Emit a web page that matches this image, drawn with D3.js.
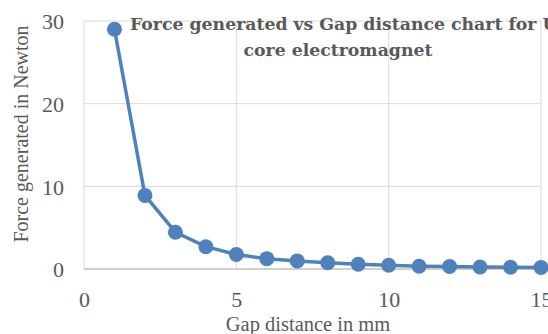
<!DOCTYPE html>
<html>
<head>
<meta charset="utf-8">
<script src="https://cdn.jsdelivr.net/npm/d3@7"></script>
<style>
  body { margin: 0; background: #fff; overflow: hidden; }
  text { font-family: "Liberation Serif", "DejaVu Serif", serif; fill: #595959; }
</style>
</head>
<body>
<div id="chart"></div>
<script>
var svgWidth = 548;
var svgHeight = 334;

// chart data
var gapMm = [1, 2, 3, 4, 5, 6, 7, 8, 9, 10, 11, 12, 13, 14, 15];
var forceN = [29, 8.9, 4.45, 2.7, 1.75, 1.25, 0.98, 0.75, 0.58, 0.45, 0.34, 0.3, 0.25, 0.21, 0.18];
var xTicks = [0, 5, 10, 15];
var yTicks = [0, 10, 20, 30];
var titleLines = ["Force generated vs Gap distance chart for U-", "core electromagnet"];

var margin = { top: 21, right: 7, bottom: 65, left: 84 };
var width = svgWidth - margin.left - margin.right;
var height = svgHeight - margin.top - margin.bottom;

var svg = d3.select("#chart")
            .append("svg")
            .attr("width", svgWidth)
            .attr("height", svgHeight);

var g = svg.append("g")
           .attr("transform", `translate(${margin.left}, ${margin.top})`);

var xScale = d3.scaleLinear().domain([0, 15]).range([0, width]);
var yScale = d3.scaleLinear().domain([0, 30]).range([height, 0]);

// gridlines
g.append("g")
  .selectAll("line")
  .data(yTicks.filter(d => d > 0))
  .enter().append("line")
  .attr("x1", 0).attr("x2", width)
  .attr("y1", d => yScale(d)).attr("y2", d => yScale(d))
  .attr("stroke", "#d9d9d9").attr("stroke-width", 1);

g.append("g")
  .selectAll("line")
  .data(xTicks)
  .enter().append("line")
  .attr("x1", d => xScale(d)).attr("x2", d => xScale(d))
  .attr("y1", 0).attr("y2", height)
  .attr("stroke", "#d9d9d9").attr("stroke-width", 1);

// x axis line at zero
g.append("line")
  .attr("x1", 0).attr("x2", width)
  .attr("y1", yScale(0)).attr("y2", yScale(0))
  .attr("stroke", "#bfbfbf").attr("stroke-width", 1.3);

// axes (labels only)
var xAxis = d3.axisBottom(xScale).tickValues(xTicks).tickSize(0).tickPadding(22);
var yAxis = d3.axisLeft(yScale).tickValues(yTicks).tickSize(0).tickPadding(20);

var xAxisGroup = g.append("g")
  .attr("transform", `translate(0, ${height})`)
  .call(xAxis);
var yAxisGroup = g.append("g").call(yAxis);

[xAxisGroup, yAxisGroup].forEach(function(ax) {
  ax.select(".domain").remove();
  ax.selectAll("text")
    .style("font-family", "Liberation Serif, serif")
    .style("font-size", "22px")
    .attr("fill", "#595959");
});
yAxisGroup.selectAll("text").attr("dy", "0.35em");

// line + markers
var line = d3.line()
  .x((d, i) => xScale(gapMm[i]))
  .y(d => yScale(d));

g.append("path")
  .datum(forceN)
  .attr("d", line)
  .attr("fill", "none")
  .attr("stroke", "#4f81bd")
  .attr("stroke-width", 3.5)
  .attr("stroke-linejoin", "round");

g.selectAll("circle")
  .data(forceN)
  .enter().append("circle")
  .attr("cx", (d, i) => xScale(gapMm[i]))
  .attr("cy", d => yScale(d))
  .attr("r", 7.5)
  .attr("fill", "#4f81bd");

// title
var title = svg.append("text")
  .style("font-family", "DejaVu Serif, serif")
  .style("font-weight", "bold")
  .style("font-size", "17.3px");
title.append("tspan")
  .attr("x", 130).attr("y", 30)
  .text(titleLines[0]);
title.append("tspan")
  .attr("x", 338).attr("y", 56)
  .attr("text-anchor", "middle")
  .text(titleLines[1]);

// axis titles
svg.append("text")
  .attr("x", 308)
  .attr("y", 331)
  .attr("text-anchor", "middle")
  .style("font-size", "20.5px")
  .text("Gap distance in mm");

svg.append("text")
  .attr("transform", "rotate(-90)")
  .attr("x", -134)
  .attr("y", 28)
  .attr("text-anchor", "middle")
  .style("font-size", "20px")
  .text("Force generated in Newton");
</script>
</body>
</html>
